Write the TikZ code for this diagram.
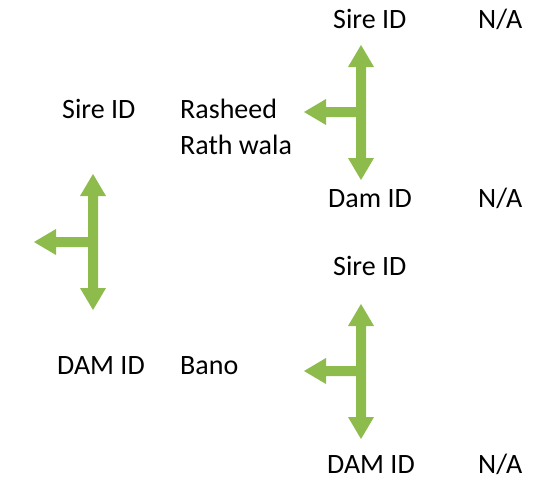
\documentclass[tikz,border=0pt]{standalone}
\usepackage{fontspec}
\setmainfont{Carlito}
\definecolor{arrgreen}{HTML}{8DBB4C}
\newcommand{\LUDarrow}[5]{% cx, cy, top, bottom, left
  \fill[arrgreen] (#1,#3) -- (#1+13,#3+22) -- (#1+5,#3+22) -- (#1+5,#4-22) -- (#1+13,#4-22)
   -- (#1,#4) -- (#1-13,#4-22) -- (#1-5,#4-22) -- (#1-5,#2+5) -- (#5+22,#2+5) -- (#5+22,#2+13)
   -- (#5,#2) -- (#5+22,#2-13) -- (#5+22,#2-5) -- (#1-5,#2-5) -- (#1-5,#3+22) -- (#1-13,#3+22) -- cycle;}
\begin{document}
\begin{tikzpicture}[x=1pt,y=-1pt,
  lbl/.style={anchor=base west,inner sep=0pt,font=\fontsize{28}{34}\selectfont}]
\useasboundingbox (0,0) rectangle (556,479);
\LUDarrow{361}{112}{45}{180}{304}
\LUDarrow{93}{242}{174}{310}{34}
\LUDarrow{361}{371}{304}{439}{304}
\node[lbl] (sire1) at (333,28) {Sire ID};
\node[lbl] (na1) at (478,28) {N/A};
\node[lbl] (sire0) at (62,118) {Sire ID};
\node[lbl] (rash) at (180,118) {Rasheed};
\node[lbl] (rath) at (180,154) {Rath wala};
\node[lbl] (dam1) at (328,207) {Dam ID};
\node[lbl] (na2) at (478,207) {N/A};
\node[lbl] (sire2) at (333,275) {Sire ID};
\node[lbl] (dam0) at (57,374) {DAM ID};
\node[lbl] (bano) at (180,374) {Bano};
\node[lbl] (dam2) at (327,473) {DAM ID};
\node[lbl] (na3) at (478,473) {N/A};
\end{tikzpicture}
\end{document}
